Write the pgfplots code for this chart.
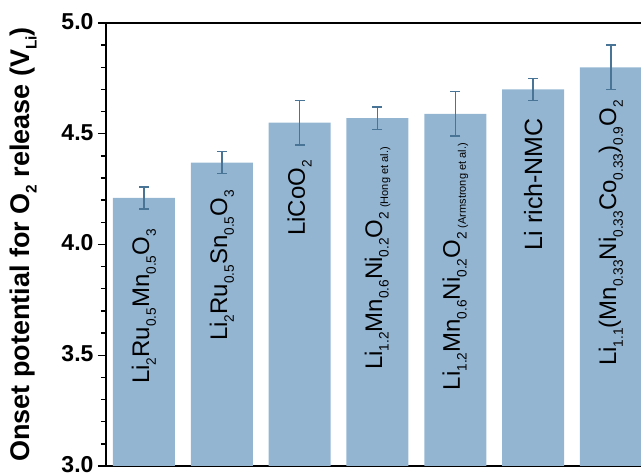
\documentclass[border=0pt]{standalone}
\usepackage{fontspec}
\setmainfont{Liberation Sans}
\usepackage{graphicx}
\usepackage{pgfplots}
\pgfplotsset{compat=1.18}
\definecolor{barfill}{RGB}{148,181,210}
\definecolor{errc}{RGB}{74,116,150}
\newcommand{\sub}[1]{\raisebox{-0.28em}{\scalebox{0.57}{#1}}}
\newcommand{\lab}{\fontsize{24}{24}\selectfont}
\newcommand{\sml}[1]{\,\raisebox{-0.25em}{\fontsize{11}{11}\selectfont #1}}
\begin{document}
\begin{tikzpicture}
\useasboundingbox (-106pt,-8pt) rectangle (535pt,466pt);
\begin{axis}[
  at={(0,0)}, anchor=south west,
  scale only axis, width=535pt, height=443pt,
  xmin=-0.488, xmax=6.386, ymin=3, ymax=5,
  axis x line=box, axis y line=left,
  axis line style={-, line width=1.6pt, black},
  xtick=\empty,
  ytick={3,3.5,4,4.5,5},
  minor y tick num=4,
  tick align=outside,
  major tick length=8pt, minor tick length=5pt,
  every tick/.style={black, line width=1.4pt},
  /pgf/number format/assume math mode=true,
  yticklabel style={font=\fontsize{23}{23}\selectfont\bfseries, yshift=1.5pt, xshift=-1pt,
    /pgf/number format/fixed, /pgf/number format/precision=1,
    /pgf/number format/fixed zerofill},
  ylabel={Onset potential for O\sub{2} release (V\sub{Li})},
  every axis y label/.style={at={(axis description cs:-0.155,0.5)}, rotate=90, anchor=center,
    font=\fontsize{27}{27}\selectfont\bfseries},
]
\addplot[ybar, bar width=0.797, fill=barfill, draw=none,
  error bars/.cd, y dir=both, y explicit,
  error bar style={errc, line width=1.5pt},
  error mark options={rotate=90, mark size=5pt, errc, line width=1.5pt}]
  coordinates {
    (0,4.21) +- (0,0.05)
    (1,4.37) +- (0,0.05)
    (2,4.55) +- (0,0.10)
    (3,4.57) +- (0,0.05)
    (4,4.59) +- (0,0.10)
    (5,4.70) +- (0,0.05)
    (6,4.80) +- (0,0.10)
  };
\node[rotate=90, anchor=east, inner sep=0pt, font=\lab] at (axis cs:0,4.07) {Li\sub{2}Ru\sub{0.5}Mn\sub{0.5}O\sub{3}};
\node[rotate=90, anchor=east, inner sep=0pt, font=\lab] at (axis cs:1,4.246) {Li\sub{2}Ru\sub{0.5}Sn\sub{0.5}O\sub{3}};
\node[rotate=90, anchor=east, inner sep=0pt, font=\lab] at (axis cs:2,4.381) {LiCoO\sub{2}};
\node[rotate=90, anchor=east, inner sep=0pt, font=\lab] at (axis cs:3,4.440) {Li\sub{1.2}Mn\sub{0.6}Ni\sub{0.2}O\sub{2}\sml{(Hong et al.)}};
\node[rotate=90, anchor=east, inner sep=0pt, font=\lab] at (axis cs:4,4.458) {Li\sub{1.2}Mn\sub{0.6}Ni\sub{0.2}O\sub{2}\sml{(Armstrong et al.)}};
\node[rotate=90, anchor=east, inner sep=0pt, font=\fontsize{25}{25}\selectfont] at (axis cs:5,4.571) {Li rich-NMC};
\node[rotate=90, anchor=east, inner sep=0pt, font=\lab] at (axis cs:6,4.652) {Li\sub{1.1}(Mn\sub{0.33}Ni\sub{0.33}Co\sub{0.33})\sub{0.9}O\sub{2}};
\end{axis}
\end{tikzpicture}
\end{document}
